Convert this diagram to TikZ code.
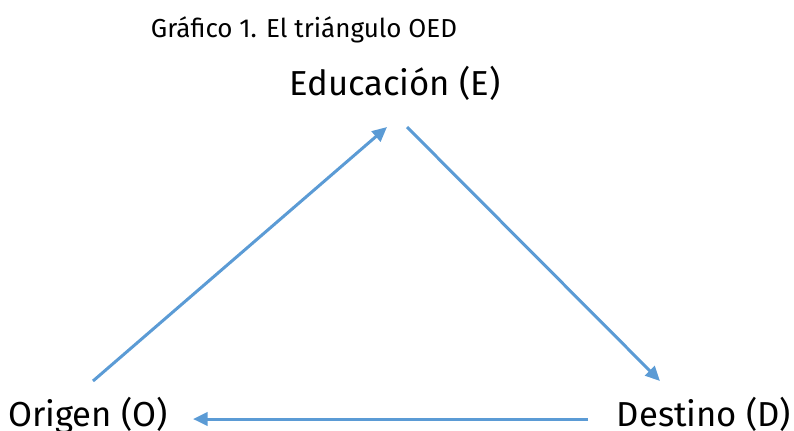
\documentclass[tikz,border=0pt]{standalone}
\usepackage{fontspec}
\setmainfont{Fira Sans}
\usetikzlibrary{arrows.meta}
\definecolor{azulflecha}{HTML}{5B9BD5}
\tikzset{etiqueta/.style={anchor=base,inner sep=0pt,font=\fontsize{26}{30}\selectfont},
  titulo/.style={anchor=base,inner sep=0pt,font=\fontsize{19.5}{23}\selectfont},
  flecha/.style={azulflecha,line width=2.25pt,-{Triangle[length=11pt,width=10pt]}}}
\begin{document}
\begin{tikzpicture}[x=0.75pt,y=-0.75pt]
\useasboundingbox (0,0) rectangle (794,430);
\node[titulo] (T) at (304,37) {Gráfico 1. El triángulo OED};
\node[etiqueta] (E) at (395,95) {Educación (E)};
\node[etiqueta] (O) at (88,426) {Origen (O)};
\node[etiqueta] (D) at (704,426) {Destino (D)};
\draw[flecha] ([shift={(5,-45)}]O.base) -- ([shift={(-8,32)}]E.base);
\draw[flecha] ([shift={(12,32)}]E.base) -- ([shift={(-44,-45)}]D.base);
\draw[flecha] ([shift={(-116,-7)}]D.base) -- ([shift={(105,-7)}]O.base);
\end{tikzpicture}
\end{document}
